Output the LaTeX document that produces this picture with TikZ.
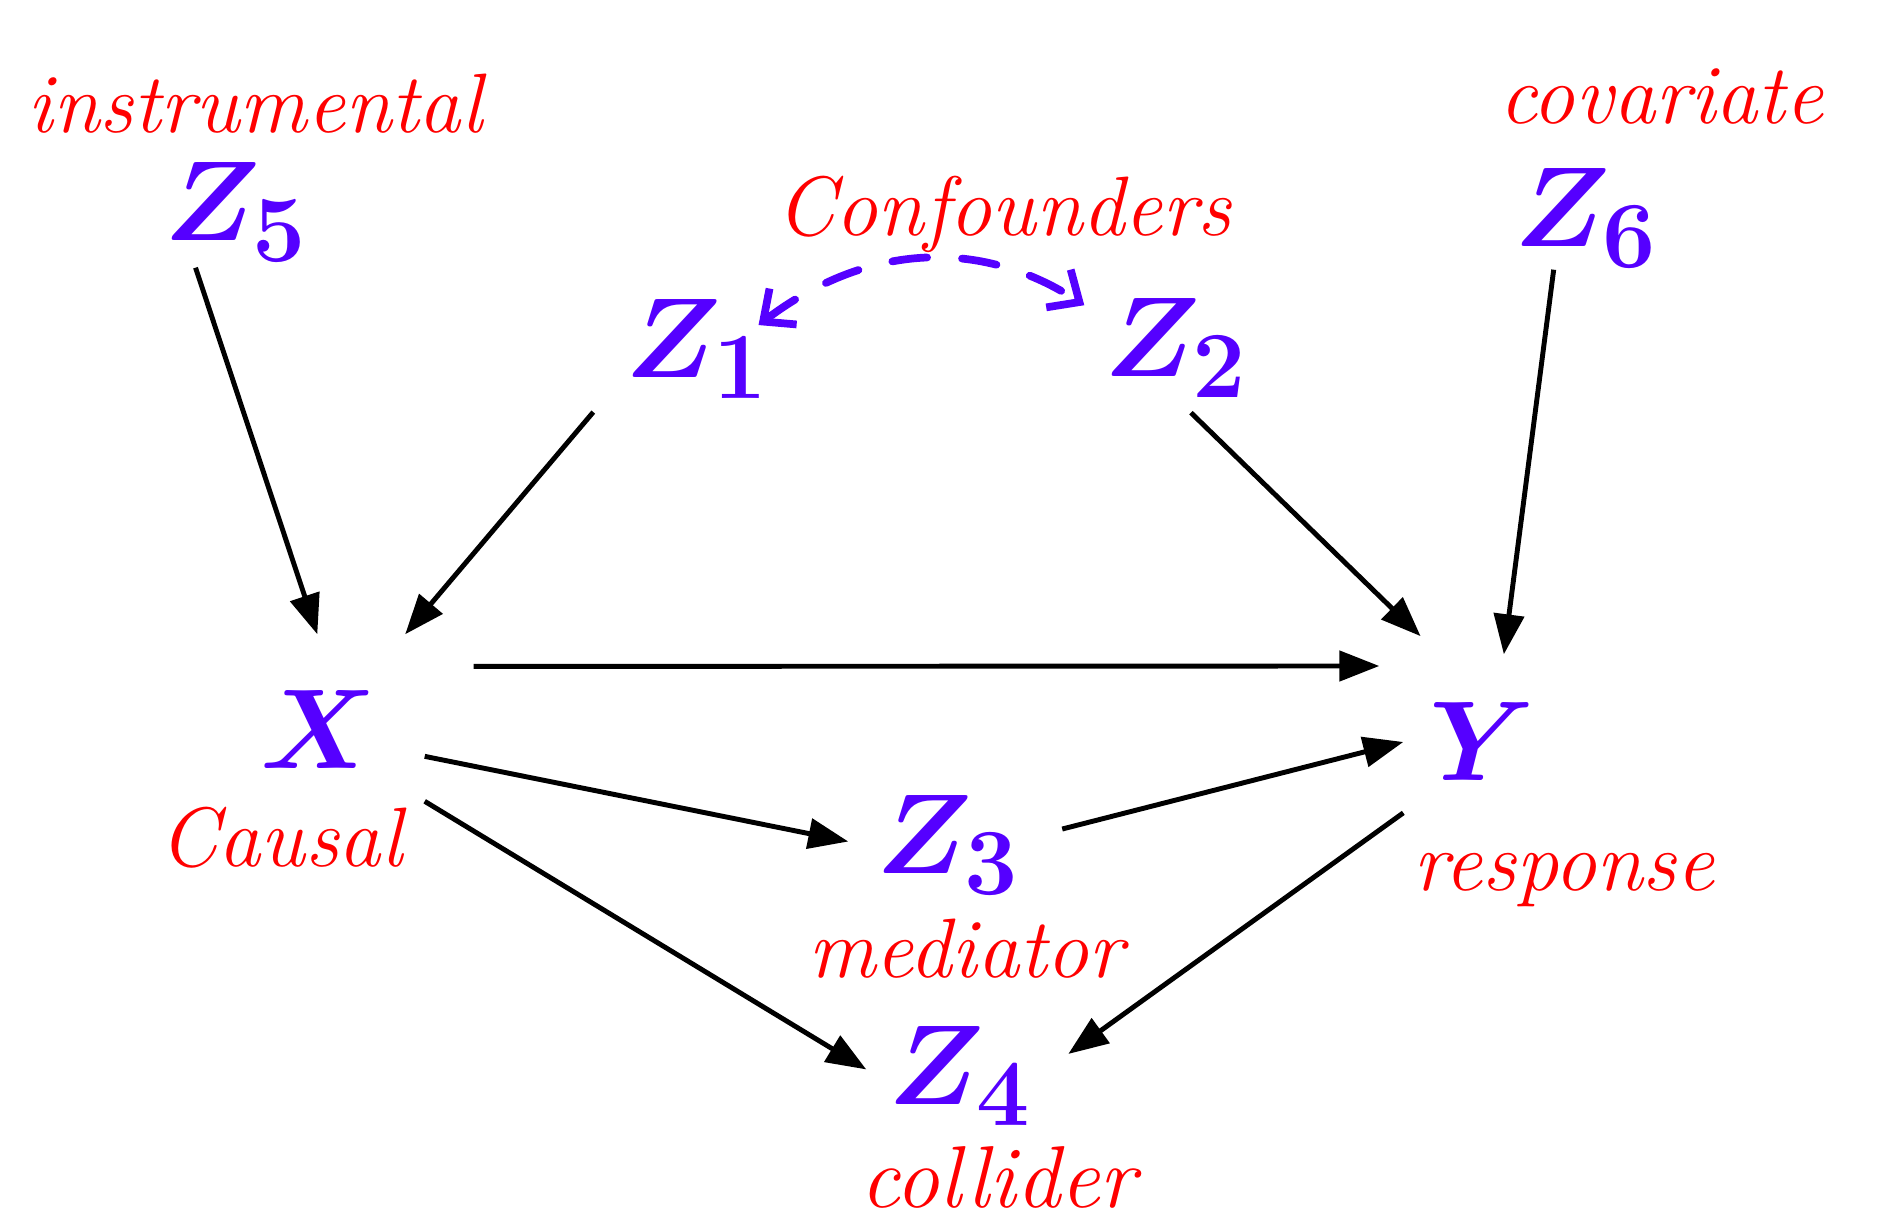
\documentclass[tikz,border=0pt]{standalone}
\usepackage{tikz}
\usepackage{xcolor}
\usepackage{amsmath}
\usepackage{graphicx}
\usetikzlibrary{arrows.meta}
\definecolor{penblue}{RGB}{85,0,255}
\definecolor{penred}{RGB}{255,0,0}
\newcommand{\penvar}[1]{\scalebox{1.3}{\boldmath$#1$}}

\begin{document}
\begin{tikzpicture}[
    var/.style={rectangle, inner sep=0pt, text=penblue, font=\Huge},
    tag/.style={anchor=base, inner sep=1pt, text=penred, font=\fontsize{24}{28}\selectfont\itshape},
    arr/.style={-{Triangle[length=4mm, width=3mm]}, line width=1.4pt},
    bidir/.style={{Straight Barb[length=2.5mm, width=4.5mm]}-{Straight Barb[length=2.5mm, width=4.5mm]}, draw=penblue, line width=2.2pt, dash pattern=on 3.5mm off 3.5mm, line cap=round}
]
    \useasboundingbox (0,0) rectangle (19.01,-12.28);

    \node[var, minimum width=1.4cm, minimum height=1.1cm] (z5) at (2.36,-2.12) {\penvar{Z_5}};
    \node[var, minimum width=1.44cm, minimum height=1.1cm] (z1) at (6.97,-3.49) {\penvar{Z_1}};
    \node[var, minimum width=1.82cm, minimum height=1.28cm] (z2) at (11.76,-3.48) {\penvar{Z_2}};
    \node[var, minimum width=1.4cm, minimum height=1.02cm] (z6) at (15.86,-2.18) {\penvar{Z_6}};
    \node[var, minimum width=2.1cm, minimum height=1.9cm] (x) at (3.19,-7.30) {\penvar{X}};
    \node[var, minimum width=1.56cm, minimum height=1.74cm] (y) at (14.82,-7.42) {\penvar{Y}};
    \node[var, minimum width=1.98cm, minimum height=1.1cm] (z3) at (9.48,-8.45) {\penvar{Z_3}};
    \node[var, minimum width=1.86cm, minimum height=1.1cm] (z4) at (9.60,-10.76) {\penvar{Z_4}};

    \node[tag] (instr) at (2.55,-1.33) {instrumental};
    \node[tag] (confd) at (10.04,-2.36) {Confounders};
    \node[tag] (covar) at (16.61,-1.24) {covariate};
    \node[tag] (causal) at (2.81,-8.67) {Causal};
    \node[tag] (resp) at (15.64,-8.91) {response};
    \node[tag] (medi) at (9.66,-9.78) {mediator};
    \node[tag, font=\fontsize{25}{29}\selectfont\itshape] (coll) at (9.98,-12.08) {collider};

    \draw[arr] (z5.-126) -- (x.91);
    \draw[arr, shorten <=4.8mm] (z1.-160) -- (x.48);
    \draw[arr, shorten <=4.9mm, shorten >=2.4mm] (x.31) -- (y.136);
    \draw[arr, shorten >=2.6mm] (z2.-77) -- (y.116);
    \draw[arr] (z6.-122) -- (y.76);
    \draw[arr] (x.-14) -- (z3.178);
    \draw[arr, shorten <=1.5mm] (z3.7) -- (y.180);
    \draw[arr] (x.-34) -- (z4.176);
    \draw[arr, shorten >=1.8mm] (y.-138) -- (z4.7);
    \draw[bidir, shorten <=-1.4mm] (z1.24) to[bend left=35] (z2.155);
\end{tikzpicture}
\end{document}
